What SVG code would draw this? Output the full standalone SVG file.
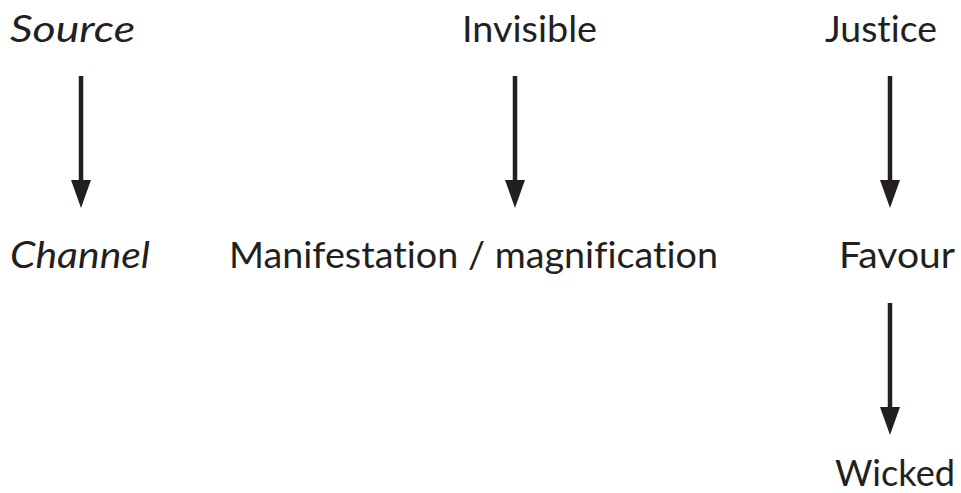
<svg xmlns="http://www.w3.org/2000/svg" width="961" height="493" viewBox="0 0 961 493">
<defs>
<style>
.t{font-family:Lato,"Open Sans","Liberation Sans",sans-serif;font-size:37px;fill:#231f20;font-variant-ligatures:none}
.i{font-style:italic}
.c{stroke:#231f20;stroke-width:4.5;fill:none}
.h{fill:#231f20}
</style>
</defs>
<rect width="961" height="493" fill="#fff"/>
<g id="source"><text class="t i" x="10" y="42" textLength="125" lengthAdjust="spacingAndGlyphs">Source</text></g>
<g id="invisible"><text class="t" x="462" y="42" textLength="135" lengthAdjust="spacingAndGlyphs">Invisible</text></g>
<g id="justice"><text class="t" x="825" y="42" textLength="112" lengthAdjust="spacingAndGlyphs">Justice</text></g>
<g id="channel"><text class="t i" x="10" y="268" textLength="140" lengthAdjust="spacingAndGlyphs">Channel</text></g>
<g id="manifestation"><text class="t" x="229" y="268" textLength="489" lengthAdjust="spacingAndGlyphs">Manifestation / magnification</text></g>
<g id="favour"><text class="t" x="839" y="268" textLength="116" lengthAdjust="spacingAndGlyphs">Favour</text></g>
<g id="wicked"><text class="t" x="835" y="486" textLength="120" lengthAdjust="spacingAndGlyphs">Wicked</text></g>
<g id="connectors">
<line class="c" x1="81" y1="76" x2="81" y2="182"/><polygon class="h" points="71,180 91,180 81,208"/>
<line class="c" x1="515" y1="76" x2="515" y2="182"/><polygon class="h" points="505,180 525,180 515,208"/>
<line class="c" x1="890" y1="76" x2="890" y2="182"/><polygon class="h" points="880,180 900,180 890,208"/>
<line class="c" x1="890" y1="303" x2="890" y2="409"/><polygon class="h" points="880,407 900,407 890,435"/>
</g>
</svg>
